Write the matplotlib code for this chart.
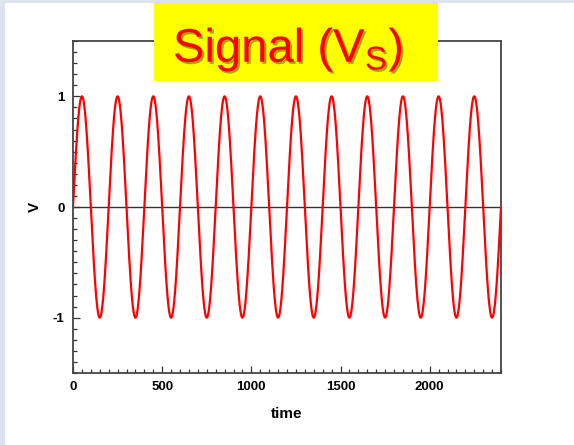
import numpy as np
import matplotlib
matplotlib.use("Agg")
import matplotlib.pyplot as plt
import matplotlib.patheffects as pe
from matplotlib.patches import Rectangle
from matplotlib.ticker import MultipleLocator

# values
amplitude = 1.0
period = 200.0
t_end = 2400.0
x_ticks = [0, 500, 1000, 1500, 2000]
y_ticks = [-1, 0, 1]
title = r"Signal (V$_\mathregular{S}$)"

t = np.linspace(0, t_end, 4001)
v = amplitude * np.sin(2 * np.pi * t / period)

plt.rcParams["font.family"] = ["Liberation Sans", "DejaVu Sans"]
plt.rcParams["mathtext.fontset"] = "custom"
plt.rcParams["mathtext.rm"] = "Liberation Sans"
plt.rcParams["axes.unicode_minus"] = False

fig = plt.figure(figsize=(5.74, 4.45), dpi=100, facecolor="white")

# light blue strips along the left and top edge
fig.patches.append(Rectangle((0, 0), 5 / 574, 1, transform=fig.transFigure,
                             facecolor="#dde4f0", edgecolor="none", zorder=0))
fig.patches.append(Rectangle((0, 1 - 3 / 445), 1, 3 / 445, transform=fig.transFigure,
                             facecolor="#dde4f0", edgecolor="none", zorder=0))

ax = fig.add_axes([73 / 574, 72 / 445, 428 / 574, 332 / 445])
ax.plot(t, v, color="#ff0000", lw=1.6, zorder=3)
ax.axhline(0, color="#333333", lw=1.0, zorder=2)

ax.set_xlim(0, t_end)
ax.set_ylim(-1.5, 1.5)
ax.set_xticks(x_ticks)
ax.set_yticks(y_ticks)
ax.xaxis.set_minor_locator(MultipleLocator(50))
ax.yaxis.set_minor_locator(MultipleLocator(0.1))
ax.tick_params(which="both", direction="in", top=False, right=False,
               color="#333333", width=0.9)
ax.tick_params(which="major", length=5, labelsize=9.5)
ax.tick_params(which="minor", length=3)
ax.tick_params(axis="x", pad=6)
ax.tick_params(axis="y", pad=6)
for lab in ax.get_xticklabels() + ax.get_yticklabels():
    lab.set_fontweight("bold")
for s in ax.spines.values():
    s.set_color("#444444")
    s.set_linewidth(1.3)

ax.set_xlabel("time", fontsize=11, fontweight="bold", labelpad=10)
ax.set_ylabel("V", fontsize=11, fontweight="bold", labelpad=8)

# yellow title box over the top spine
fig.patches.append(Rectangle((154 / 574, 1 - 81 / 445), 284 / 574, 78 / 445,
                             transform=fig.transFigure, facecolor="#ffff00",
                             edgecolor="none", zorder=5))
fig.text(288 / 574, 1 - 62 / 445, title, ha="center", va="baseline",
         fontsize=34, color="#ff0000", zorder=6,
         path_effects=[pe.SimplePatchShadow(offset=(1.5, -1.5),
                                            shadow_rgbFace="#6b6b00", alpha=0.6),
                       pe.Normal()])

fig.savefig("out.png", dpi=100, facecolor=fig.get_facecolor())
